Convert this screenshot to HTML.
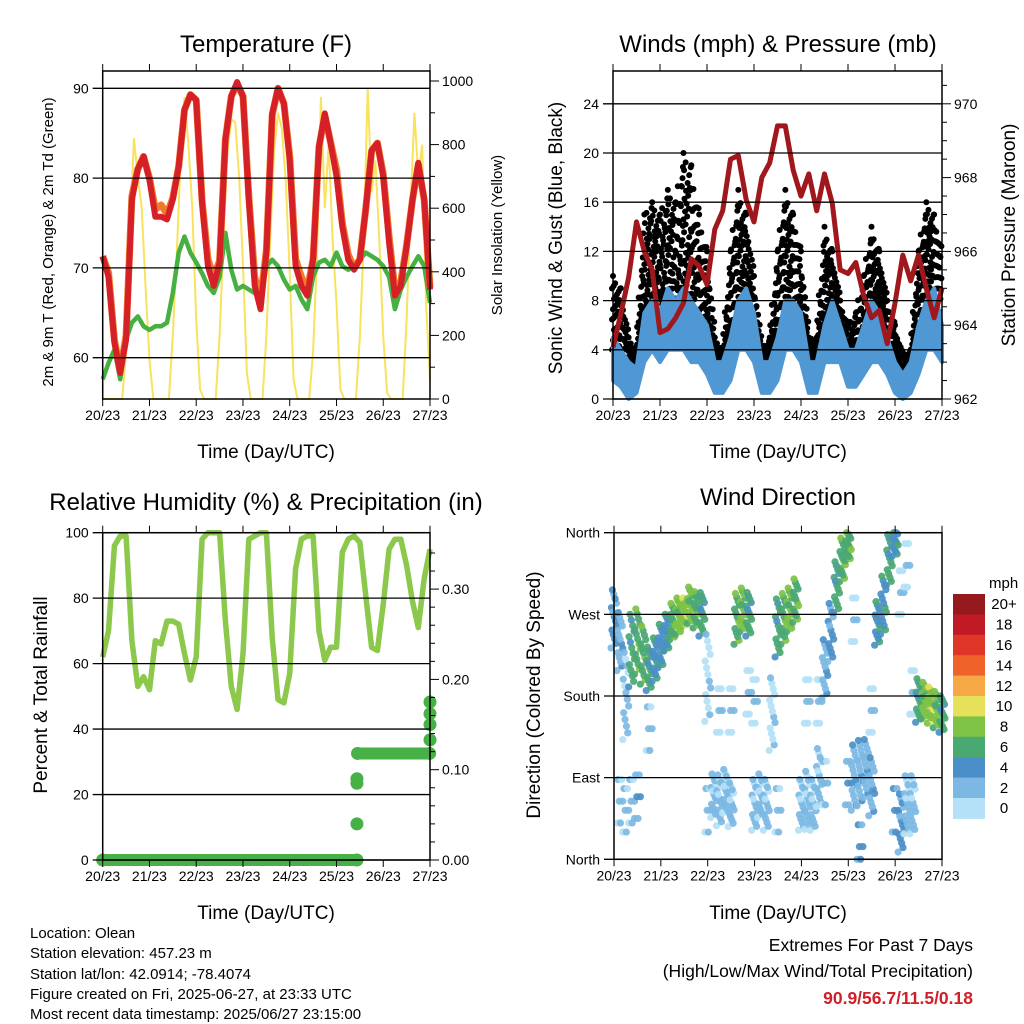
<!DOCTYPE html>
<html><head><meta charset="utf-8">
<style>
body{margin:0;background:#fff;}
svg{display:block;font-family:"Liberation Sans",Arial,sans-serif;}
</style></head>
<body>
<svg id="root" width="1024" height="1024" viewBox="0 0 1024 1024">
<rect x="0" y="0" width="1024" height="1024" fill="#fff"/>
<text x="266" y="52" font-size="24" text-anchor="middle">Temperature (F)</text>
<text x="778" y="52" font-size="24" text-anchor="middle">Winds (mph) &amp; Pressure (mb)</text>
<text x="266" y="510" font-size="24" text-anchor="middle">Relative Humidity (%) &amp; Precipitation (in)</text>
<text x="778" y="505" font-size="24" text-anchor="middle">Wind Direction</text>
<text x="266" y="458" font-size="19" text-anchor="middle">Time (Day/UTC)</text>
<text x="778" y="458" font-size="19" text-anchor="middle">Time (Day/UTC)</text>
<text x="266" y="919" font-size="19" text-anchor="middle">Time (Day/UTC)</text>
<text x="778" y="919" font-size="19" text-anchor="middle">Time (Day/UTC)</text>
<text transform="translate(53,242) rotate(-90)" font-size="15" text-anchor="middle">2m &amp; 9m T (Red, Orange) &amp; 2m Td (Green)</text>
<text transform="translate(502,235) rotate(-90)" font-size="15" text-anchor="middle">Solar Insolation (Yellow)</text>
<text transform="translate(562,238) rotate(-90)" font-size="19" text-anchor="middle">Sonic Wind &amp; Gust (Blue, Black)</text>
<text transform="translate(1015,235) rotate(-90)" font-size="19" text-anchor="middle">Station Pressure (Maroon)</text>
<text transform="translate(47,695) rotate(-90)" font-size="19" text-anchor="middle">Percent &amp; Total Rainfall</text>
<text transform="translate(540,695) rotate(-90)" font-size="19" text-anchor="middle">Direction (Colored By Speed)</text>
<g font-size="15">
<text x="30" y="938">Location: Olean</text>
<text x="30" y="958">Station elevation: 457.23 m</text>
<text x="30" y="979">Station lat/lon: 42.0914; -78.4074</text>
<text x="30" y="999">Figure created on Fri, 2025-06-27, at 23:33 UTC</text>
<text x="30" y="1019">Most recent data timestamp: 2025/06/27 23:15:00</text>
</g>
<text x="973" y="951" font-size="17.5" text-anchor="end">Extremes For Past 7 Days</text>
<text x="973" y="977" font-size="17.5" text-anchor="end">(High/Low/Max Wind/Total Precipitation)</text>
<text x="973" y="1004" font-size="17.5" font-weight="bold" fill="#d0202a" text-anchor="end">90.9/56.7/11.5/0.18</text>
</svg>
<script>
const dayLabels = ['20/23','21/23','22/23','23/23','24/23','25/23','26/23','27/23'];
// Temperature (every 3 h)
const tempRed = [71.3,69,61.7,58.3,62,77.6,81,82.4,79.8,75.7,75.7,75.4,77.6,81.3,87.6,89.3,88.7,77.2,70.2,68,70.6,84.3,89.1,90.7,89.1,77.6,68,65.4,71.7,87.2,90,88.3,82,70.2,68,66.9,70.9,83.5,87.2,83.9,80.2,74.6,70.9,69.8,70.9,76.5,83.1,83.9,80.2,72.8,66.9,68,72.4,77.6,81.7,77.6,67.6];
const tempOrange = [71.3,69.5,62,58.5,62.5,78,81,82.4,80,76.5,77,76,77.8,81.3,87.6,89.3,88.7,77.5,71,69,70.8,84.3,89.1,90.5,89.1,78,69,66.5,72,87,90,88.3,82.5,71,69,67.5,71,83.5,87,84,81,75,71.5,70,71,76.5,83,83.9,80.5,73.5,67.5,68.5,72.5,77.6,81.5,77.6,67.8];
const dewpoint = [57.6,59.4,60.9,57.6,62,63.9,64.6,63.5,63.1,63.5,63.5,63.9,67.2,71.7,73.5,71.7,70.6,69.4,68,67.2,69,73.9,69.8,67.6,68,67.6,67.2,66.5,70.2,70.9,70.2,68.7,67.6,68,66.5,65.4,69,70.6,70.9,70.2,71.7,70.2,69.8,70.2,70.9,71.7,71.3,70.9,70.2,69,65.4,67.6,69,70.2,71.3,70.2,66.1];
// Solar insolation (every 2 h)
const solar = [0,0,0,0,0,0,150,500,820,700,600,350,120,0,0,0,0,0,200,450,750,950,800,600,250,30,0,0,0,0,200,500,780,880,870,700,420,80,0,0,0,0,200,500,780,900,850,680,400,60,0,0,0,0,150,450,950,600,800,500,300,30,0,0,0,0,200,500,980,650,750,500,200,20,0,0,0,0,250,600,900,700,800,300,60];
// Winds (every 4 h)
const gustHi = [10,9,5,4,15,16,15,17,16,20,19,15,12,5,4,12,17,15,10,4,5,12,17,15,12,5,5,14,12,8,6,7,10,14,12,8,6,3.5,4,12,16,15,12];
const gustLo = [4,2,1.5,2,6,7,6,7,7,8,7,6,4,2,2,4,7,7,4,2,2,4,7,7,5,2,2,5,6,4,2,2,3,6,6,3,2,1.5,2,5,8,8,6];
const sonicHi = [5,4,3,2.5,7,8,7,9,8,9,8,7,6,3,3,5,8,9,7,3,3,5,8,8,7,3,3,6,8,6,4,4,6,8,7,5,3,2,3,6,8,9,6];
const sonicLo = [1.5,1,0,0.5,3,4,3,4,4,4,3,3,2,0.5,0.5,1.5,4,4,3,0.5,0.5,1.5,4,4,3,0.5,0.5,3,3,3,1,1,2,3,3,2,0.5,0,0.5,2,4,4,3];
const pressure = [963.4,964.3,965.3,966.8,966,965.5,963.8,963.9,964.2,964.6,965.8,965.6,965.1,966.6,967.1,968.5,968.6,967.4,966.8,968,968.4,969.4,969.4,968.2,967.5,968.1,967.1,968.1,967.3,965.5,965.4,965.7,964.8,964.2,964.4,963.5,964.6,965.9,965.2,965.9,965,964.2,965];
// Relative humidity (every 3 h)
const rh = [62,70,96,99,99,67,53,56,52,67,66,73,73,72,63,55,62,98,100,100,100,73,53,46,63,98,99,100,100,68,49,48,57,89,98,99,99,70,61,65,65,94,98,99,97,81,65,64,78,95,98,98,90,79,71,86,95];
// Precipitation accumulation events
const precipHours = [0,130.5,130.5,130.5,130.5,130.8,167.8,168,168,168,168];
const precipVals = [0,0,0.04,0.085,0.09,0.118,0.118,0.133,0.15,0.162,0.175];
// Wind direction (every 3 h): primary & secondary populations
const dirA = [265,240,180,230,240,225,210,220,235,250,262,268,272,280,275,270,200,70,65,75,60,265,275,270,60,70,60,160,255,265,275,285,60,65,60,90,210,250,300,330,345,90,95,100,80,260,280,330,350,40,60,60,175,175,170,165,160];
const spreadA = [40,40,60,50,45,40,30,30,30,25,25,25,20,25,25,30,60,30,35,30,30,35,30,30,35,30,35,50,40,35,30,30,35,40,35,40,40,40,35,30,20,45,45,40,40,30,40,35,20,40,40,40,30,25,25,25,25];
const speedA = [4,3,2,6,7,7,6,5,5,5,7,8,9,8,7,6,1,2,2,2,2,7,8,6,2,2,2,1,6,7,8,7,2,2,2,2,3,4,6,7,7,3,3,3,3,5,5,6,5,4,2,2,6,8,9,8,6];
const dirB = [-1,70,60,70,75,-1,150,-1,-1,-1,-1,-1,-1,-1,-1,-1,60,-1,170,-1,170,-1,-1,190,180,-1,-1,-1,60,-1,-1,-1,-1,180,-1,180,90,-1,-1,-1,90,270,20,-1,170,-1,-1,-1,60,300,330,190,-1,-1,-1,-1,-1];
const speedB = [0,2,2,2,3,0,2,0,0,0,0,0,0,0,0,0,2,0,1,0,1,0,0,1,1,0,0,0,2,0,0,0,0,1,0,1,2,0,0,0,3,1,4,0,1,0,0,0,4,1,1,1,0,0,0,0,0];
const speedBins = ['0','2','4','6','8','10','12','14','16','18','20+'];
const binColors = ['#b4e1f7','#7cb8e3','#4a8fc7','#4aa872','#7ec246','#e6e05a','#f6a844','#ef632a','#e0362a','#c01b25','#951a1d'];

const NS='http://www.w3.org/2000/svg';
const root=document.getElementById('root');
function mk(tag,attrs,parent){const e=document.createElementNS(NS,tag);for(const k in attrs)e.setAttribute(k,attrs[k]);(parent||root).appendChild(e);return e;}
function pts(arr){return arr.map(p=>p[0].toFixed(1)+','+p[1].toFixed(1)).join(' ');}

const P1={x0:102.7,x1:430,y0:71,y1:399};
const P2={x0:613,x1:942,y0:71,y1:399};
const P3={x0:102.7,x1:430,y0:532.7,y1:860};
const P4={x0:614,x1:942,y0:532.7,y1:859.3};
function hx(P,h){return P.x0+(P.x1-P.x0)*h/168;}
const yTemp=t=>88.3+(90-t)*8.98;
const ySolar=w=>399-w*0.318;
const yWind=s=>399-s*12.3;
const yPres=p=>399-(p-962)*36.9;
const yRH=v=>860-v*3.273;
const yPrec=v=>860-v*903;
const yDir=d=>859.3-d*0.9072;

function frame(P,name,gridVals,yf,leftLabels,rightTicks,yfR,rightLabels){
  const g=mk('g',{});
  
  
  gridVals.forEach((v,i)=>{
    const y=yf(v);
    const l=mk('line',{x1:P.x0-10,x2:P.x1,y1:y,y2:y,stroke:'#000','stroke-width':1.3},g);
    
    
    const t=mk('text',{x:P.x0-14,y:y+5,'font-size':14,'text-anchor':'end'},g);
    t.textContent=leftLabels[i];
    
    
  });
  rightTicks.forEach((v,i)=>{
    const y=yfR(v);
    const major=rightLabels[i]!=='';
    const l=mk('line',{x1:P.x1,x2:P.x1+(major?9:5),y1:y,y2:y,stroke:'#000','stroke-width':1},g);
    
    
    if(major){
      const t=mk('text',{x:P.x1+12,y:y+5,'font-size':14},g);
      t.textContent=rightLabels[i];
      
      
    }
  });
  dayLabels.forEach((d,i)=>{
    const x=hx(P,i*24);
    const a=mk('line',{x1:x,x2:x,y1:P.y1,y2:P.y1+7,stroke:'#000','stroke-width':1},g);
    
    
    const b=mk('line',{x1:x,x2:x,y1:P.y0,y2:P.y0-7,stroke:'#000','stroke-width':1},g);
    
    
    const t=mk('text',{x:x,y:P.y1+21,'font-size':14,'text-anchor':'middle'},g);
    t.textContent=d;
    
    
  });
  const r=mk('rect',{x:P.x0,y:P.y0,width:P.x1-P.x0,height:P.y1-P.y0,fill:'none',stroke:'#000','stroke-width':1.5},g);
  
  
}

// ===== Panel 1: temperature =====
const g1=mk('g',{});


const sol=mk('polyline',{points:pts(solar.map((w,i)=>[hx(P1,i*2),ySolar(w)])),fill:'none',stroke:'#f9e25c','stroke-width':2},g1);


const dew=mk('polyline',{points:pts(dewpoint.map((t,i)=>[hx(P1,i*3),yTemp(t)])),fill:'none',stroke:'#46b041','stroke-width':4.5,'stroke-linejoin':'round'},g1);


const org=mk('polyline',{points:pts(tempOrange.map((t,i)=>[hx(P1,i*3),yTemp(t)])),fill:'none',stroke:'#f07a2a','stroke-width':7,'stroke-linejoin':'round'},g1);


const red=mk('polyline',{points:pts(tempRed.map((t,i)=>[hx(P1,i*3),yTemp(t)])),fill:'none',stroke:'#d62027','stroke-width':6,'stroke-linejoin':'round'},g1);


frame(P1,'temperature',[60,70,80,90],yTemp,['60','70','80','90'],
  [0,100,200,300,400,500,600,700,800,900,1000],ySolar,['0','','200','','400','','600','','800','','1000']);

// ===== Panel 2: winds =====
const g2=mk('g',{});


const fracs=[0,0.13,0.27,0.41,0.55,0.69,0.83,1];
for(let i=0;i<gustHi.length-1;i++){
  for(let j=0;j<5;j++){
    const f=j/5;
    const h=(i+f)*4;
    const hi=gustHi[i]+(gustHi[i+1]-gustHi[i])*f;
    const lo=gustLo[i]+(gustLo[i+1]-gustLo[i])*f;
    fracs.forEach((q,m)=>{
      const qq=(q+j*0.07)%1.0001;
      const c=mk('circle',{cx:hx(P2,h+((m%3)-1)*0.5),cy:yWind(lo+(hi-lo)*qq),r:3,fill:'#000'},g2);
      
      
    });
  }
}
const band=sonicHi.map((v,i)=>[hx(P2,i*4),yWind(v)]).concat(sonicLo.map((v,i)=>[hx(P2,i*4),yWind(v)]).reverse());
const sb=mk('polygon',{points:pts(band),fill:'#4f98d4',stroke:'#4f98d4','stroke-width':4,'stroke-linejoin':'round'},g2);


const pr=mk('polyline',{points:pts(pressure.map((p,i)=>[hx(P2,i*4),yPres(p)])),fill:'none',stroke:'#a0171c','stroke-width':5,'stroke-linejoin':'round'},g2);


frame(P2,'winds',[0,4,8,12,16,20,24],yWind,['0','4','8','12','16','20','24'],
  [962,962.5,963,963.5,964,964.5,965,965.5,966,966.5,967,967.5,968,968.5,969,969.5,970,970.5],yPres,
  ['962','','','','964','','','','966','','','','968','','','','970','']);

// ===== Panel 3: RH & precipitation =====
const g3=mk('g',{});


const rl=mk('polyline',{points:pts(rh.map((v,i)=>[hx(P3,i*3),yRH(v)])),fill:'none',stroke:'#8cc84b','stroke-width':5.5,'stroke-linejoin':'round'},g3);


for(let i=0;i<precipHours.length;i++){
  if(i<precipHours.length-1 && precipVals[i+1]===precipVals[i]){
    const s=mk('line',{x1:hx(P3,precipHours[i]),x2:hx(P3,precipHours[i+1]),y1:yPrec(precipVals[i]),y2:yPrec(precipVals[i]),stroke:'#47b148','stroke-width':12,'stroke-linecap':'round'},g3);
    
    
  }
  const c=mk('circle',{cx:hx(P3,precipHours[i]),cy:yPrec(precipVals[i]),r:6.5,fill:'#47b148'},g3);
  
  
}
frame(P3,'humidity',[0,20,40,60,80,100],yRH,['0','20','40','60','80','100'],
  [0,0.02,0.04,0.06,0.08,0.1,0.12,0.14,0.16,0.18,0.2,0.22,0.24,0.26,0.28,0.3,0.32,0.34],yPrec,
  ['0.00','','','','','0.10','','','','','0.20','','','','','0.30','','']);

// ===== Panel 4: wind direction =====
const g4=mk('g',{});


const N=14;
const spPat=[-1,0,1,0,-1,1,0,0,-1,1,0,1,-1,0];
function spColor(s){let b=Math.floor(Math.max(0,s)/2);if(b>10)b=10;return binColors[b];}
dirA.forEach((d,i)=>{
  for(let k=0;k<N;k++){
    const dx=((k*5)%N)/(N-1)*3-1.5;
    const dy=((k*3)%N)/(N-1)-0.5;
    const dd=d+spreadA[i]*1.6*dy;
    const c=mk('circle',{cx:hx(P4,i*3+dx),cy:yDir(Math.min(360,Math.max(0,dd))),r:3.6,fill:spColor(speedA[i]+spPat[k]),'fill-opacity':0.92},g4);
    
    
  }
  if(dirB[i]>=0){
    for(let k=0;k<6;k++){
      const dx=(k/5)*3-1.5;
      const dy=((k*4)%6)/5-0.5;
      const dd=dirB[i]+60*dy;
      const c=mk('circle',{cx:hx(P4,i*3+dx),cy:yDir(Math.min(360,Math.max(0,dd))),r:3.6,fill:spColor(speedB[i]+spPat[k]),'fill-opacity':0.92},g4);
      
      
    }
  }
});
frame(P4,'direction',[0,90,180,270,360],yDir,['North','East','South','West','North'],[],yDir,[]);

// Colorbar
const cb=mk('g',{});


const cbTop=594,cbH=20.4;
const mph=mk('text',{x:989,y:588,'font-size':15},cb);
mph.textContent='mph';


for(let i=0;i<speedBins.length;i++){
  const idx=speedBins.length-1-i;
  const r=mk('rect',{x:953,y:cbTop+i*cbH,width:32,height:cbH+0.5,fill:binColors[idx]},cb);
  
  
  const t=mk('text',{x:1004,y:cbTop+i*cbH+cbH/2+5,'font-size':15,'text-anchor':'middle'},cb);
  t.textContent=speedBins[idx];
  
  
}
</script>
</body></html>
